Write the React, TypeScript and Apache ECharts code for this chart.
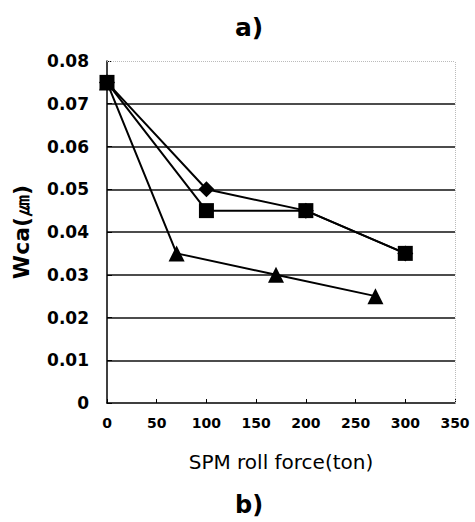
import React, { useEffect, useRef } from "react";
import * as echarts from "echarts";

const xTicks = [0, 50, 100, 150, 200, 250, 300, 350];
const yTicks = [0, 0.01, 0.02, 0.03, 0.04, 0.05, 0.06, 0.07, 0.08];

const diamondX = [0, 100, 200, 300];
const diamondY = [0.075, 0.05, 0.045, 0.035];

const squareX = [0, 100, 200, 300];
const squareY = [0.075, 0.045, 0.045, 0.035];

const triangleX = [0, 70, 170, 270];
const triangleY = [0.075, 0.035, 0.03, 0.025];

const FONT = "DejaVu Sans";

function pairs(xs: number[], ys: number[]) {
  return xs.map((x, i) => [x, ys[i]]);
}

export default function App() {
  const ref = useRef<HTMLDivElement>(null);
  useEffect(() => {
    if (!ref.current) return;
    const chart = echarts.init(ref.current, null, { renderer: "svg" });
    const lineStyle = { color: "#000", width: 2 };
    chart.setOption({
      animation: false,
      backgroundColor: "#fff",
      grid: { left: 107, right: 20, top: 61, bottom: 119 },
      xAxis: {
        type: "value",
        min: xTicks[0],
        max: xTicks[xTicks.length - 1],
        interval: 50,
        name: "SPM roll force(ton)",
        nameLocation: "middle",
        nameGap: 49,
        nameTextStyle: { fontFamily: FONT, fontSize: 20, color: "#000" },
        axisLine: { lineStyle: { color: "#000", width: 1.5 } },
        axisTick: { inside: true, length: 4, lineStyle: { color: "#000" } },
        axisLabel: { fontFamily: FONT, fontSize: 14, fontWeight: "bold", color: "#000", margin: 13 },
        splitLine: { show: false },
      },
      yAxis: {
        type: "value",
        min: yTicks[0],
        max: yTicks[yTicks.length - 1],
        interval: 0.01,
        name: "Wca(㎛)",
        nameLocation: "middle",
        nameGap: 75,
        nameRotate: 90,
        nameTextStyle: { fontFamily: FONT, fontSize: 22, fontWeight: "bold", color: "#000" },
        axisLine: { show: true, lineStyle: { color: "#000", width: 1.5 } },
        axisTick: { show: true, inside: true, length: 5, lineStyle: { color: "#000" } },
        axisLabel: { fontFamily: FONT, fontSize: 17, fontWeight: "bold", color: "#000", margin: 18 },
        splitLine: { show: true, showMinLine: false, showMaxLine: false, lineStyle: { color: "#111", width: 1.5 } },
      },
      graphic: [
        { type: "text", left: 235, top: 15, style: { text: "a)", font: `bold 25px "${FONT}"`, fill: "#000" } },
        { type: "text", left: 235, top: 493, style: { text: "b)", font: `bold 24px "${FONT}"`, fill: "#000" } },
      ],
      series: [
        {
          type: "line",
          data: pairs(diamondX, diamondY),
          symbol: "diamond",
          symbolSize: 16,
          lineStyle,
          itemStyle: { color: "#000" },
          markLine: {
            silent: true,
            symbol: "none",
            label: { show: false },
            lineStyle: { color: "#bbb", width: 1, type: "dotted" },
            data: [{ yAxis: 0.08 }, { xAxis: 350 }],
          },
        },
        {
          type: "line",
          data: pairs(squareX, squareY),
          symbol: "rect",
          symbolSize: 15,
          lineStyle,
          itemStyle: { color: "#000" },
        },
        {
          type: "line",
          data: pairs(triangleX, triangleY),
          symbol: "triangle",
          symbolSize: 16,
          lineStyle,
          itemStyle: { color: "#000" },
        },
      ],
    });
    return () => chart.dispose();
  }, []);
  return (
    <div
      ref={ref}
      style={{ position: "absolute", left: 0, top: 0, width: 475, height: 522 }}
    />
  );
}
